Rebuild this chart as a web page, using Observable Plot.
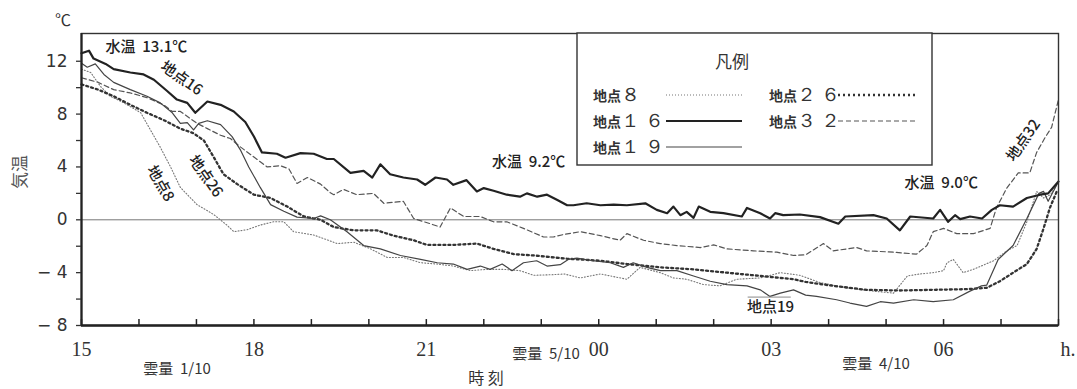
<!DOCTYPE html>
<html>
<head>
<meta charset="utf-8">
<script src="https://cdn.jsdelivr.net/npm/d3@7"></script>
<script src="https://cdn.jsdelivr.net/npm/@observablehq/plot@0.6"></script>
<style>
  html, body { margin: 0; padding: 0; background: #fff; }
  #chart { width: 1077px; height: 389px; position: relative; }
</style>
</head>
<body>
<div id="chart"></div>
<script>
// time: hours elapsed since 15:00; value: air temperature (°C)
const site8 = [[0,11.4],[0.16,11.15],[0.33,10.1],[0.5,9.35],[0.74,8.85],[1.03,8.1],[1.2,6.8],[1.37,5.5],[1.55,4.0],[1.72,2.45],[2.01,1.15],[2.3,0.4],[2.53,-0.4],[2.65,-0.9],[2.88,-0.75],[3.11,-0.4],[3.34,-0.15],[3.52,-0.15],[3.69,-0.9],[4.04,-1.15],[4.2,-1.4],[4.45,-1.8],[4.74,-1.7],[5.03,-2.2],[5.32,-2.85],[5.6,-2.85],[5.9,-3.25],[6.19,-3.35],[6.47,-3.5],[6.77,-3.85],[7.05,-3.75],[7.34,-3.75],[7.63,-3.85],[7.87,-4.2],[8.22,-4.15],[8.4,-4.1],[8.68,-4.4],[9.03,-4.1],[9.49,-4.5],[9.72,-3.6],[10.07,-4.0],[10.3,-4.4],[10.53,-4.5],[10.82,-4.9],[11.11,-5.0],[11.4,-4.5],[11.81,-4.4],[12.16,-4.0],[12.5,-4.2],[12.85,-4.75],[13.32,-5.15],[13.78,-5.4],[14.13,-5.55],[14.37,-4.25],[14.59,-4.1],[14.82,-4.0],[15.0,-3.85],[15.06,-3.25],[15.17,-3.0],[15.34,-4.0],[15.52,-3.75],[15.87,-3.1],[16.1,-2.35],[16.28,-1.95],[16.45,-0.15],[16.62,2.15],[16.74,1.65],[16.86,1.9],[17.0,2.9]];
const site16 = [[0,12.6],[0.13,12.8],[0.21,12.2],[0.42,11.8],[0.56,11.4],[0.85,11.15],[1.08,11.0],[1.26,10.6],[1.49,9.75],[1.66,9.1],[1.84,8.85],[1.98,8.1],[2.19,8.95],[2.42,8.7],[2.65,8.2],[2.85,7.4],[3.0,6.3],[3.14,5.1],[3.4,5.0],[3.55,4.7],[3.81,5.05],[4.04,5.0],[4.27,4.6],[4.39,4.6],[4.68,3.55],[4.91,3.7],[5.06,3.2],[5.2,4.2],[5.37,3.45],[5.6,3.2],[5.84,3.05],[5.98,2.65],[6.16,3.2],[6.36,3.05],[6.47,2.65],[6.7,3.0],[6.88,2.15],[7.0,2.4],[7.17,2.2],[7.4,1.9],[7.63,1.75],[7.75,2.0],[7.93,1.75],[8.1,1.9],[8.28,1.5],[8.45,1.1],[8.56,1.1],[8.79,1.25],[9.03,1.1],[9.26,1.15],[9.49,1.1],[9.81,1.25],[10.01,0.75],[10.19,0.5],[10.3,1.0],[10.42,0.35],[10.53,0.6],[10.65,0.15],[10.74,1.0],[10.94,0.6],[11.17,0.5],[11.49,0.25],[11.58,0.9],[11.81,0.5],[11.98,0.1],[12.07,0.5],[12.21,0.35],[12.5,0.4],[12.85,0.2],[13.17,-0.3],[13.29,0.25],[13.78,0.35],[14.01,0.1],[14.24,-0.8],[14.42,0.25],[14.82,0.1],[14.94,0.75],[15.08,-0.15],[15.2,0.35],[15.29,0.05],[15.46,0.25],[15.67,0.1],[15.84,0.75],[15.98,1.1],[16.21,1.0],[16.45,1.65],[16.68,1.9],[16.82,2.0],[17.0,2.9]];
const site19 = [[0,11.85],[0.1,11.55],[0.24,11.8],[0.39,11.0],[0.56,10.4],[0.85,9.85],[1.14,9.35],[1.37,8.85],[1.58,8.1],[1.72,7.3],[1.84,7.35],[1.95,6.8],[2.04,7.3],[2.19,7.5],[2.42,7.2],[2.62,6.3],[2.77,5.25],[2.91,4.0],[3.11,2.45],[3.29,1.15],[3.52,0.65],[3.75,0.2],[4.04,0.1],[4.16,0.3],[4.33,0],[4.62,-0.9],[4.91,-1.95],[5.2,-2.2],[5.55,-2.7],[5.9,-3.0],[6.19,-3.25],[6.47,-3.35],[6.71,-3.75],[6.94,-3.5],[7.11,-3.75],[7.32,-3.35],[7.49,-3.85],[7.69,-3.25],[7.92,-3.1],[8.1,-3.5],[8.33,-3.4],[8.47,-3.0],[8.62,-2.9],[8.9,-3.1],[9.2,-3.25],[9.43,-3.6],[9.6,-3.25],[9.84,-3.6],[10.07,-3.85],[10.36,-3.85],[10.65,-4.25],[10.94,-4.65],[11.23,-4.9],[11.58,-5.0],[11.81,-5.3],[11.98,-5.8],[12.16,-5.55],[12.39,-5.3],[12.6,-5.7],[12.79,-5.8],[13.14,-6.05],[13.37,-6.3],[13.66,-6.55],[13.9,-6.2],[14.13,-6.3],[14.48,-6.05],[14.82,-6.2],[15.17,-6.05],[15.46,-5.4],[15.66,-5.0],[15.75,-4.95],[15.95,-3.0],[16.21,-1.95],[16.45,0.1],[16.66,2.0],[16.74,2.15],[16.82,1.4],[17.0,2.9]];
const site26 = [[0,10.25],[0.29,9.85],[0.56,9.35],[0.85,8.7],[1.14,8.1],[1.43,7.55],[1.72,6.9],[1.95,6.55],[2.13,6.0],[2.3,4.75],[2.47,3.45],[2.71,2.7],[3.0,1.9],[3.29,1.65],[3.58,1.0],[3.87,0.25],[4.16,0],[4.39,-0.55],[4.74,-0.8],[5.14,-0.8],[5.43,-1.2],[5.78,-1.55],[6.01,-1.9],[6.47,-1.9],[6.88,-1.8],[7.17,-2.2],[7.52,-2.6],[7.87,-2.7],[8.22,-2.85],[8.45,-2.95],[8.68,-3.0],[9.03,-3.1],[9.49,-3.35],[10.07,-3.6],[10.65,-3.75],[11.23,-4.0],[11.81,-4.25],[12.39,-4.5],[12.6,-4.7],[13.08,-5.0],[13.66,-5.3],[14.24,-5.35],[14.82,-5.3],[15.4,-5.25],[15.75,-5.15],[15.98,-4.65],[16.21,-4.0],[16.45,-3.35],[16.62,-2.2],[16.74,-0.65],[16.85,0.9],[16.97,2.15]];
const site32 = [[0,10.75],[0.29,10.4],[0.56,9.85],[0.85,9.6],[1.14,9.25],[1.43,8.7],[1.58,8.2],[1.72,8.2],[2.01,7.3],[2.19,6.9],[2.42,6.4],[2.59,6.15],[2.77,5.5],[3.0,4.75],[3.23,4.0],[3.46,4.1],[3.61,3.85],[3.75,2.75],[3.93,3.2],[4.16,2.7],[4.33,2.05],[4.39,1.9],[4.56,2.3],[4.79,1.9],[5.08,2.0],[5.26,1.25],[5.6,1.4],[5.78,0.1],[6.07,-0.3],[6.24,-0.55],[6.42,0.9],[6.65,0.25],[6.94,0.25],[7.17,-0.15],[7.4,-0.15],[7.69,-0.65],[8.04,-1.3],[8.21,-1.3],[8.4,-1.1],[8.68,-0.9],[9.03,-1.2],[9.37,-1.55],[9.49,-1.05],[9.78,-1.55],[10.07,-1.8],[10.36,-1.95],[10.77,-2.1],[11.0,-1.9],[11.23,-2.2],[11.69,-2.35],[12.1,-2.45],[12.39,-2.7],[12.6,-2.65],[12.91,-1.8],[13.08,-2.35],[13.49,-2.1],[13.66,-2.35],[14.13,-2.45],[14.53,-2.6],[14.71,-1.95],[14.82,-0.9],[15.0,-0.65],[15.23,-1.05],[15.52,-1.05],[15.81,-0.65],[15.92,0.9],[16.1,2.4],[16.3,3.55],[16.5,3.55],[16.62,5.1],[16.77,6.25],[16.88,7.0],[17.0,9.1]];

const xTickHours = [0, 3, 6, 9, 12, 15];
const xTickLabels = ["15", "18", "21", "00", "03", "06"];
const hourTicks = d3.range(0, 18);
const yMajorTicks = [-8, -4, 0, 4, 8, 12];
const yMinorTicks = [-6, -2, 2, 6, 10];

const annotations = [
  {x: 1.13, y: 13.1, text: "水温  13.1℃", rotate: 0},
  {x: 1.74, y: 10.7, text: "地点16", rotate: 35},
  {x: 2.16, y: 3.3, text: "地点26", rotate: 55},
  {x: 1.37, y: 2.75, text: "地点8", rotate: 60},
  {x: 7.78, y: 4.33, text: "水温  9.2℃", rotate: 0},
  {x: 14.96, y: 2.8, text: "水温  9.0℃", rotate: 0},
  {x: 11.99, y: -6.64, text: "地点19", rotate: 0},
  {x: 16.39, y: 6.0, text: "地点32", rotate: -55}
];

const styles = {
  s8:  {stroke: "#777", strokeWidth: 1.1, strokeDasharray: "1,2"},
  s16: {stroke: "#222", strokeWidth: 2.2},
  s19: {stroke: "#444", strokeWidth: 1.2},
  s26: {stroke: "#333", strokeWidth: 2.3, strokeDasharray: "2,3"},
  s32: {stroke: "#555", strokeWidth: 1.2, strokeDasharray: "5,3"}
};

const X = d => d[0], Y = d => d[1];
const fmtY = d => d < 0 ? "− " + Math.abs(d) : String(d);

const plot = Plot.plot({
  width: 1077,
  height: 389,
  marginLeft: 81,
  marginRight: 19,
  marginTop: 33,
  marginBottom: 64,
  style: {background: "#fff", fontFamily: "'Liberation Serif', serif", overflow: "visible"},
  x: {domain: [0, 17], axis: null},
  y: {domain: [-8, 14.1], axis: null},
  marks: [
    Plot.ruleY([0], {stroke: "#777", strokeWidth: 1}),
    Plot.line(site32, {x: X, y: Y, ...styles.s32}),
    Plot.line(site8, {x: X, y: Y, ...styles.s8}),
    Plot.line(site26, {x: X, y: Y, ...styles.s26}),
    Plot.line(site19, {x: X, y: Y, ...styles.s19}),
    Plot.line(site16, {x: X, y: Y, ...styles.s16}),
    Plot.frame({stroke: "#333", strokeWidth: 1.4}),
    Plot.ruleY([-8], {stroke: "#222", strokeWidth: 2.4}),
    Plot.ruleX([0], {stroke: "#222", strokeWidth: 2.2}),
    Plot.ruleX(hourTicks, {y1: -8, y2: -7.55, stroke: "#222", strokeWidth: 1.5}),
    Plot.axisY({ticks: yMajorTicks, tickSize: 5, tickPadding: 9, tickFormat: fmtY, label: null,
      fontSize: 17, fontFamily: "'DejaVu Sans', sans-serif", fill: "#333", stroke: "#333", strokeWidth: 1.3}),
    Plot.axisY({ticks: yMinorTicks, tickSize: 5, tickFormat: () => "", label: null, stroke: "#333", strokeWidth: 1.3}),
    Plot.axisX({ticks: xTickHours, tickSize: 0, tickPadding: 16, label: null,
      tickFormat: (d) => xTickLabels[xTickHours.indexOf(d)],
      fontSize: 20, fontFamily: "'Liberation Serif', serif", fill: "#333"}),
    Plot.ruleY([-5.85], {x1: 11.6, x2: 12.35, stroke: "#888", strokeWidth: 1}),
    Plot.text(annotations, {x: "x", y: "y", text: "text", rotate: "rotate",
      fontSize: 15, fontFamily: "'Noto Sans CJK JP', sans-serif", fill: "#222", fontWeight: 500})
  ]
});

document.getElementById("chart").appendChild(plot);

// extra labels and legend (layout only)
const svg = d3.select(plot);
const g = svg.append("g").attr("font-family", "'Noto Sans CJK JP', sans-serif").attr("fill", "#333").attr("text-anchor", "middle");
g.append("text").attr("x", 63).attr("y", 26).attr("font-size", 16).text("℃");
g.append("text").attr("transform", "translate(26,172) rotate(-90)")
  .attr("font-size", 17).attr("fill", "#555").text("気温");
g.append("text").attr("x", 1068).attr("y", 356)
  .attr("font-family", "'Liberation Serif', serif").attr("font-size", 20).text("h.");
g.append("text").attr("x", 486).attr("y", 384).attr("font-size", 16).text("時 刻");
const clouds = [["雲量  1/10", 177, 374], ["雲量  5/10", 546, 359], ["雲量  4/10", 876, 369]];
clouds.forEach(([t, x, y]) => g.append("text").attr("x", x).attr("y", y).attr("font-size", 15).text(t));

// legend
const lg = svg.append("g").attr("text-anchor", "start");
lg.append("rect").attr("x", 577).attr("y", 33).attr("width", 355).attr("height", 132)
  .attr("fill", "#fff").attr("stroke", "#333").attr("stroke-width", 1.4);
lg.append("text").attr("x", 732).attr("y", 68).attr("text-anchor", "middle")
  .attr("font-family", "'Noto Sans CJK JP', sans-serif").attr("font-size", 17).attr("fill", "#333").text("凡例");
const legendItems = [
  {label: "地点", num: "８", st: styles.s8, x: 593, y: 95, lx1: 666, lx2: 742},
  {label: "地点", num: "１ ６", st: styles.s16, x: 593, y: 121, lx1: 666, lx2: 742},
  {label: "地点", num: "１ ９", st: styles.s19, x: 593, y: 147, lx1: 666, lx2: 742},
  {label: "地点", num: "２ ６", st: styles.s26, x: 769, y: 95, lx1: 838, lx2: 918},
  {label: "地点", num: "３ ２", st: styles.s32, x: 769, y: 121, lx1: 838, lx2: 918}
];
legendItems.forEach(it => {
  const t = lg.append("text").attr("x", it.x).attr("y", it.y + 6).attr("fill", "#333").attr("text-anchor", "start");
  t.append("tspan").attr("font-family", "'Noto Sans CJK JP', sans-serif").attr("font-size", 14).attr("font-weight", 700).text(it.label);
  t.append("tspan").attr("font-family", "'Liberation Serif', serif").attr("font-size", 19).text(it.num);
  lg.append("line").attr("x1", it.lx1).attr("x2", it.lx2).attr("y1", it.y).attr("y2", it.y)
    .attr("stroke", it.st.stroke).attr("stroke-width", it.st.strokeWidth)
    .attr("stroke-dasharray", it.st.strokeDasharray || null);
});
</script>
</body>
</html>
